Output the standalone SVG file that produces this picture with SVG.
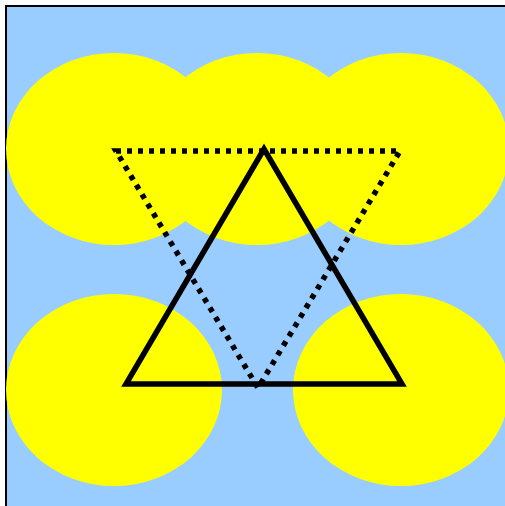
<svg xmlns="http://www.w3.org/2000/svg" width="505" height="506" viewBox="0 0 505 506">
<style>
.bg{fill:#99ccff;stroke:#000;stroke-width:2}
.blob{fill:#ffff00}
.tri{fill:none;stroke:#000;stroke-width:5.5}
.dot{stroke-dasharray:5 6}
</style>
<rect class="bg" x="6" y="6" width="520" height="520"/>
<g id="ellipses">
<ellipse id="e1" class="blob" cx="114" cy="149" rx="108" ry="96"/>
<ellipse id="e2" class="blob" cx="257" cy="149" rx="108" ry="96"/>
<ellipse id="e3" class="blob" cx="401" cy="149" rx="108" ry="96"/>
<ellipse id="e4" class="blob" cx="114" cy="390" rx="108" ry="96"/>
<ellipse id="e5" class="blob" cx="401" cy="390" rx="108" ry="96"/>
</g>
<g id="triangles">
<polygon id="dotted" class="tri dot" points="116,151 400,151 258,388"/>
<polygon id="solid" class="tri" points="264,149 126,384 402,384"/>
</g>
</svg>
